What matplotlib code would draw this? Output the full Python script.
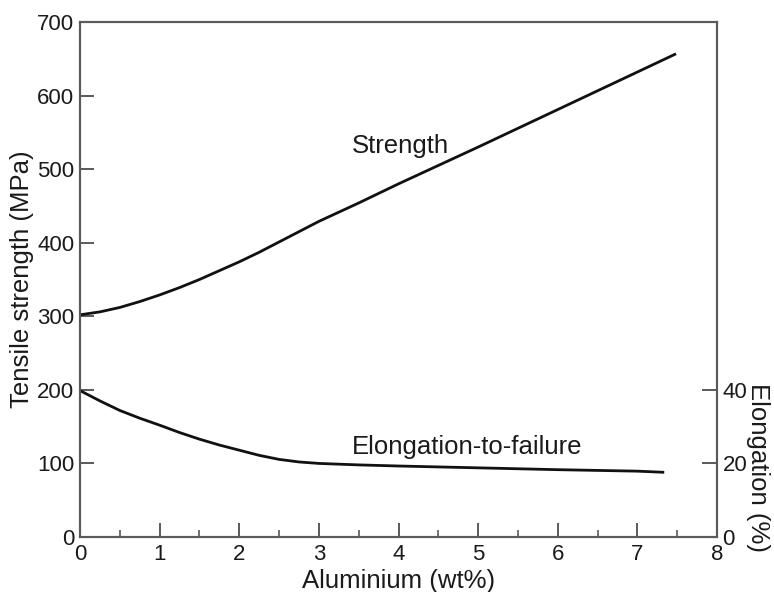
import matplotlib
matplotlib.use("Agg")
import matplotlib.pyplot as plt
from matplotlib.ticker import MultipleLocator

plt.rcParams["font.family"] = ["Liberation Sans", "DejaVu Sans"]

# Tensile strength vs aluminium content
al_strength = [0, 0.25, 0.5, 0.75, 1.0, 1.25, 1.5, 1.75, 2.0, 2.25, 2.5, 2.75,
               3.0, 3.5, 4.0, 5.0, 6.0, 7.0, 7.47]
strength_mpa = [302, 306, 312, 320, 329, 339, 350, 362, 374, 387, 401, 415,
                429, 454, 480, 530, 581, 632, 656]

# Elongation-to-failure vs aluminium content
al_elong = [0, 0.25, 0.5, 0.75, 1.0, 1.25, 1.5, 1.75, 2.0, 2.25, 2.5, 2.75,
            3.0, 3.5, 4.0, 5.0, 6.0, 7.0, 7.32]
elongation_pct = [39.8, 37.0, 34.4, 32.3, 30.4, 28.4, 26.6, 25.0, 23.6, 22.2, 21.1, 20.4,
                  20.0, 19.6, 19.3, 18.8, 18.3, 17.9, 17.6]

x_ticks = [0, 1, 2, 3, 4, 5, 6, 7, 8]
strength_ticks = [0, 100, 200, 300, 400, 500, 600, 700]
elong_ticks = [0, 20, 40]

spine_col = "#5a5a5a"
text_col = "#1a1a1a"
fs = 16
lfs = 18.5

fig = plt.figure(figsize=(7.74, 5.92), dpi=100)
ax = fig.add_axes([80 / 774, 1 - 537 / 592, 637 / 774, 515 / 592])
ax2 = ax.twinx()

ax.plot(al_strength, strength_mpa, color="#111111", lw=2.0, solid_joinstyle="round")
ax2.plot(al_elong, elongation_pct, color="#111111", lw=2.0, solid_joinstyle="round")

ax.set_xlim(0, 8)
ax.set_ylim(0, 700)
ax2.set_ylim(0, 140)

ax.set_xticks(x_ticks)
ax.xaxis.set_minor_locator(MultipleLocator(0.5))
ax.set_yticks(strength_ticks)
ax2.set_yticks(elong_ticks)

for a in (ax, ax2):
    for s in a.spines.values():
        s.set_color(spine_col)
        s.set_linewidth(1.5)

ax.tick_params(axis="both", which="major", direction="in", length=10, width=1.4,
               color=spine_col, labelsize=fs, labelcolor=text_col)
ax.tick_params(axis="x", which="minor", direction="in", length=5, width=1.2, color=spine_col)
ax.tick_params(axis="x", pad=5)
ax.tick_params(axis="y", pad=4)
ax2.tick_params(axis="y", direction="in", length=11, width=1.4, color=spine_col,
                labelsize=fs, labelcolor=text_col, pad=4)

ax.set_xlabel("Aluminium (wt%)", fontsize=lfs, color=text_col)
ax.set_ylabel("Tensile strength (MPa)", fontsize=lfs, color=text_col)
ax2.set_ylabel("Elongation (%)", fontsize=lfs, color=text_col, rotation=270, va="center")
ax.xaxis.set_label_coords(0.5, -0.062)
ax.yaxis.set_label_coords(-0.072, 0.5)
ax2.yaxis.set_label_coords(1.064, 0.135)

ax.text(4.03, 531, "Strength", fontsize=lfs, color=text_col, ha="center", va="center")
ax.text(4.86, 122, "Elongation-to-failure", fontsize=lfs, color=text_col,
        ha="center", va="center")

fig.savefig("out.png", dpi=100)
